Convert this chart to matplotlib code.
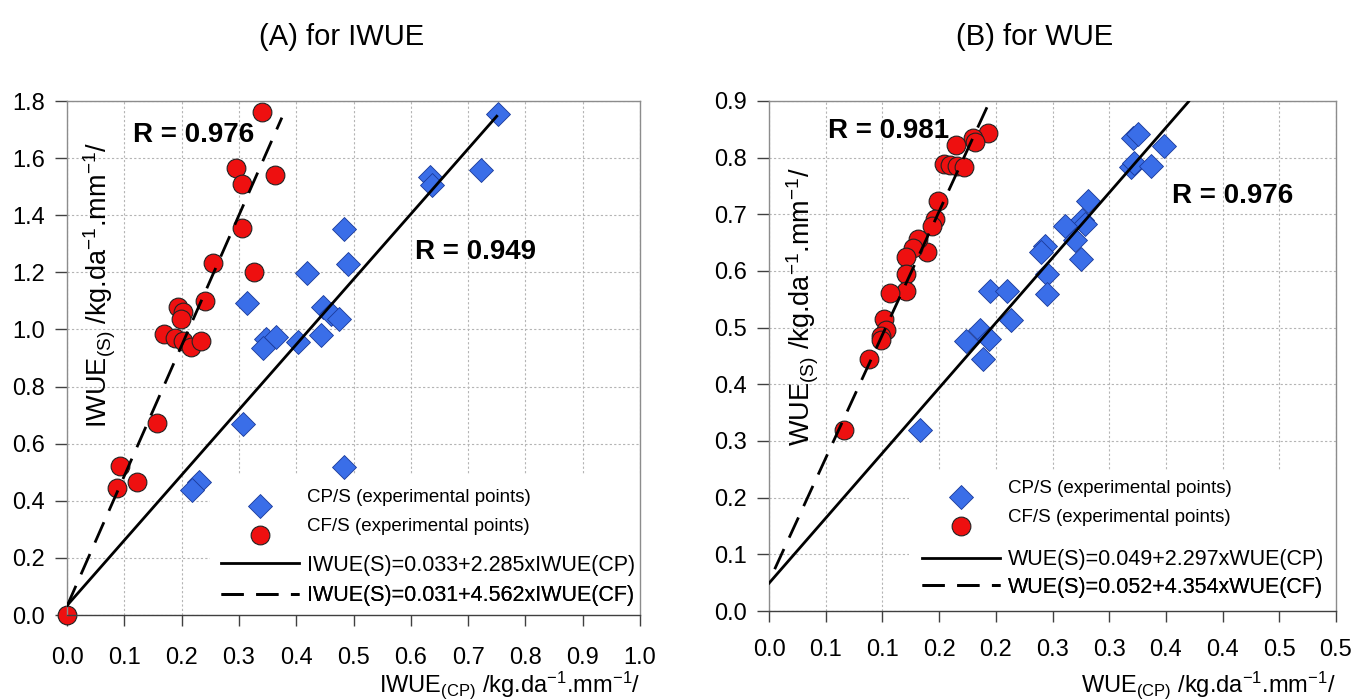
import matplotlib
matplotlib.use("Agg")
import matplotlib.pyplot as plt
from matplotlib.legend_handler import HandlerLine2D
from matplotlib.patches import Rectangle
import numpy as np

# ---- data: panel A (IWUE) ----
iwue_cp_x = [0.752, 0.633, 0.637, 0.723, 0.483, 0.491, 0.419, 0.315, 0.447, 0.460, 0.475,
             0.443, 0.347, 0.365, 0.342, 0.403, 0.307, 0.483, 0.230, 0.219]
iwue_cp_y = [1.756, 1.535, 1.506, 1.559, 1.352, 1.228, 1.198, 1.094, 1.079, 1.054, 1.035,
             0.980, 0.966, 0.972, 0.935, 0.956, 0.669, 0.519, 0.465, 0.438]
iwue_cf_x = [0.341, 0.295, 0.305, 0.363, 0.305, 0.255, 0.327, 0.241, 0.193, 0.202, 0.199,
             0.170, 0.189, 0.202, 0.217, 0.233, 0.157, 0.093, 0.088, 0.123, 0.0]
iwue_cf_y = [1.760, 1.565, 1.510, 1.540, 1.356, 1.234, 1.200, 1.100, 1.078, 1.062, 1.038,
             0.985, 0.969, 0.959, 0.938, 0.960, 0.672, 0.522, 0.446, 0.465, 0.0]
iwue_fit_cp = (0.033, 2.285)
iwue_fit_cf = (0.031, 4.562)

# ---- data: panel B (WUE) ----
wue_cp_x = [0.321, 0.325, 0.348, 0.319, 0.322, 0.337, 0.281, 0.276, 0.279, 0.261, 0.270, 0.275,
            0.243, 0.240, 0.245, 0.245, 0.195, 0.210, 0.213, 0.174, 0.186, 0.194, 0.189, 0.133]
wue_cp_y = [0.834, 0.842, 0.820, 0.783, 0.790, 0.785, 0.723, 0.690, 0.683, 0.679, 0.655, 0.622,
            0.644, 0.634, 0.594, 0.560, 0.565, 0.565, 0.513, 0.477, 0.495, 0.480, 0.445, 0.320]
wue_cf_x = [0.193, 0.180, 0.182, 0.165, 0.154, 0.160, 0.166, 0.172, 0.149, 0.146, 0.144, 0.139,
            0.131, 0.127, 0.121, 0.121, 0.121, 0.107, 0.101, 0.103, 0.099, 0.099, 0.088, 0.066]
wue_cf_y = [0.843, 0.834, 0.828, 0.822, 0.788, 0.787, 0.786, 0.783, 0.723, 0.692, 0.679, 0.633,
            0.657, 0.641, 0.625, 0.594, 0.565, 0.561, 0.516, 0.496, 0.486, 0.478, 0.445, 0.319]
wue_fit_cp = (0.049, 2.297)
wue_fit_cf = (0.052, 4.354)

a_xticks = np.round(np.arange(0, 1.01, 0.1), 2)
a_yticks = np.round(np.arange(0, 1.81, 0.2), 2)
b_xticks = np.round(np.arange(0, 0.501, 0.05), 3)
b_xticklabels = ['0.0', '0.1', '0.1', '0.2', '0.2', '0.3', '0.3', '0.4', '0.4', '0.5', '0.5']
b_yticks = np.round(np.arange(0, 0.91, 0.1), 2)

plt.rcParams['font.family'] = ['Liberation Sans', 'DejaVu Sans']
plt.rcParams['mathtext.fontset'] = 'custom'
plt.rcParams['mathtext.rm'] = 'Liberation Sans'

BLUE = '#3a6ee8'
RED = '#ee1010'
W, H = 1358, 699

fig = plt.figure(figsize=(W / 100, H / 100), dpi=100)
ax1 = fig.add_axes([67 / W, 1 - 615 / H, 573 / W, 514 / H])
ax2 = fig.add_axes([769 / W, 1 - 611 / H, 567 / W, 510 / H])


class LoweredMarker(HandlerLine2D):
    """legend marker drawn a little below its text row, as in the original"""
    def __init__(self, dy, **kw):
        super().__init__(**kw)
        self.dy = dy

    def create_artists(self, legend, orig_handle, xdescent, ydescent, width, height,
                       fontsize, trans):
        arts = super().create_artists(legend, orig_handle, xdescent, ydescent, width,
                                      height, fontsize, trans)
        for a in arts:
            a.set_ydata(np.asarray(a.get_ydata(), dtype=float) - self.dy)
        return arts


def style(ax, xticks, yticks, xlim, ylim, xpad):
    ax.set_xlim(*xlim)
    ax.set_ylim(*ylim)
    ax.set_xticks(xticks)
    ax.set_yticks(yticks)
    ax.set_yticklabels(['%.1f' % v for v in yticks])
    ax.grid(True, color='#b4b4b4', linestyle=(0, (2, 2)), linewidth=0.8)
    ax.set_axisbelow(True)
    for s in ax.spines.values():
        s.set_color('#8c8c8c')
        s.set_linewidth(1.0)
    ax.spines['bottom'].set_color('#404040')
    ax.tick_params(axis='x', direction='out', length=8, width=1, color='#404040',
                   labelsize=17, pad=xpad)
    ax.tick_params(axis='y', direction='out', length=9, width=1, color='#404040',
                   labelsize=17, pad=7)


def entry(ax, handle, label, x_px, y_px, fs, marker=False):
    # one legend row: handle starts at x_px, row centred on y_px (figure pixels)
    em = fs * 100 / 72
    hmap = {handle: LoweredMarker(dy=8)} if marker else None
    leg = ax.legend([handle], [label], loc='center left',
                    bbox_to_anchor=(x_px / W, 1 - y_px / H), bbox_transform=fig.transFigure,
                    frameon=False, fontsize=fs, handlelength=78 / em,
                    handletextpad=8 / em, borderpad=0, borderaxespad=0,
                    handler_map=hmap)
    leg.set_zorder(5)
    ax.add_artist(leg)


def panel(ax, cp_x, cp_y, cf_x, cf_y, fit_cp, fit_cf, x_cp, x_cf, name, lg):
    h1, = ax.plot(cp_x, cp_y, linestyle='none', marker='D', markersize=12,
                  markerfacecolor=BLUE, markeredgecolor='#1a3a9a', markeredgewidth=0.6,
                  zorder=2, clip_on=False)
    h2, = ax.plot(cf_x, cf_y, linestyle='none', marker='o', markersize=13.5,
                  markerfacecolor=RED, markeredgecolor='#222222', markeredgewidth=0.8,
                  zorder=2, clip_on=False)
    xs = np.array(x_cp)
    h3, = ax.plot(xs, fit_cp[0] + fit_cp[1] * xs, color='black', lw=2.0, zorder=3)
    xs = np.array(x_cf)
    h4, = ax.plot(xs, fit_cf[0] + fit_cf[1] * xs, color='black', lw=2.0, zorder=3,
                  dashes=(8, 4.5))
    # white area behind the key, covering the grid
    x0, y0, ys, hx = lg
    ax.add_patch(Rectangle((x0, 0), 1 - x0, y0, transform=ax.transAxes,
                           facecolor='white', edgecolor='none', zorder=1))
    entry(ax, h1, 'CP/S (experimental points)', hx, ys[0], 13.5, marker=True)
    entry(ax, h2, 'CF/S (experimental points)', hx, ys[1], 13.5, marker=True)
    entry(ax, h3, '%s(S)=%.3f+%.3fx%s(CP)' % (name, fit_cp[0], fit_cp[1], name),
          hx, ys[2], 15.5)
    entry(ax, h4, '%s(S)=%.3f+%.3fx%s(CF)' % (name, fit_cf[0], fit_cf[1], name),
          hx, ys[3], 15.5)


style(ax1, a_xticks, a_yticks, (0, 1.0), (0, 1.8), 15)
ax1.set_xticklabels(['%.1f' % v for v in a_xticks])
panel(ax1, iwue_cp_x, iwue_cp_y, iwue_cf_x, iwue_cf_y, iwue_fit_cp, iwue_fit_cf,
      [0.0, 0.75], [0.0, 0.375], 'IWUE', (0.25, 0.272, (497, 526, 565, 596), 221))

style(ax2, b_xticks, b_yticks, (0, 0.5), (0, 0.9), 12)
ax2.set_xticklabels(b_xticklabels)
panel(ax2, wue_cp_x, wue_cp_y, wue_cf_x, wue_cf_y, wue_fit_cp, wue_fit_cf,
      [0.0, 0.37], [0.005, 0.195], 'WUE', (0.247, 0.274, (488, 517, 560, 587), 922))

# R annotations
ax1.text(0.115, 1.68, 'R = 0.976', fontsize=20, fontweight='bold', va='center')
ax1.text(0.607, 1.271, 'R = 0.949', fontsize=20, fontweight='bold', va='center')
ax2.text(0.052, 0.847, 'R = 0.981', fontsize=20, fontweight='bold', va='center')
ax2.text(0.355, 0.733, 'R = 0.976', fontsize=20, fontweight='bold', va='center')

# axis labels placed like the original (y label inside the frame)
ax1.text(0.058, 0.642, r'IWUE$\mathregular{_{(S)}}$ /kg.da$\mathregular{^{-1}}$.mm$\mathregular{^{-1}}$/',
         transform=ax1.transAxes, rotation=90, ha='center', va='center', fontsize=19.5)
ax2.text(0.060, 0.597, r'WUE$\mathregular{_{(S)}}$ /kg.da$\mathregular{^{-1}}$.mm$\mathregular{^{-1}}$/',
         transform=ax2.transAxes, rotation=90, ha='center', va='center', fontsize=19.5)
ax1.text(1.0, -0.136, r'IWUE$\mathregular{_{(CP)}}$ /kg.da$\mathregular{^{-1}}$.mm$\mathregular{^{-1}}$/',
         transform=ax1.transAxes, ha='right', va='center', fontsize=17)
ax2.text(1.0, -0.145, r'WUE$\mathregular{_{(CP)}}$ /kg.da$\mathregular{^{-1}}$.mm$\mathregular{^{-1}}$/',
         transform=ax2.transAxes, ha='right', va='center', fontsize=17)

fig.text(342 / W, 1 - 37 / H, '(A) for IWUE', ha='center', va='center', fontsize=21,
         family=['Liberation Sans Narrow', 'Liberation Sans'])
fig.text(1035 / W, 1 - 37 / H, '(B) for WUE', ha='center', va='center', fontsize=21,
         family=['Liberation Sans Narrow', 'Liberation Sans'])

fig.savefig('out.png', dpi=100, facecolor='white')
